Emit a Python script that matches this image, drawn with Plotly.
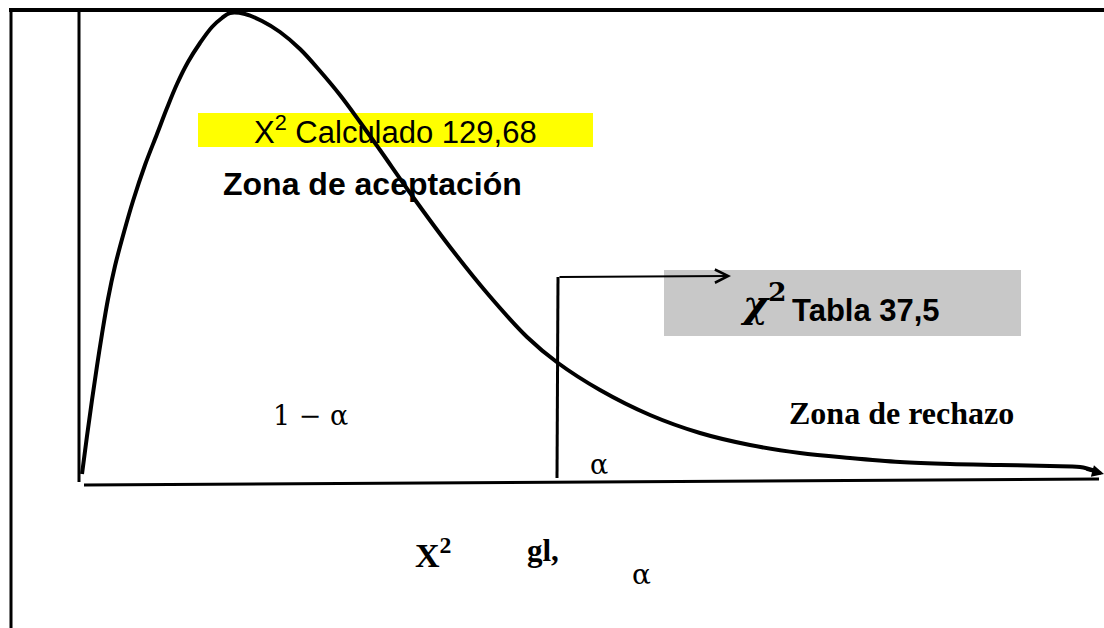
import plotly.graph_objects as go

# Curve of the chi-square density sketch (drawing frame units: x to the right, y downward)
curve_x = [82, 87, 92, 97, 102, 108, 115, 124, 133, 145, 157, 167, 177, 188, 200, 212, 222, 230,
           245, 262, 280, 300, 320, 340, 360, 380, 413, 450, 487, 527, 558, 600, 650, 700,
           750, 800, 850, 900, 950, 1000, 1050, 1080, 1096]
curve_y = [474, 436, 400, 366, 334, 299, 266, 232, 201, 165, 134, 108, 84, 62, 43, 27, 18, 13,
           14, 21, 32, 49, 71, 95, 122, 150, 197, 247, 293, 337, 363, 390, 415, 433,
           445, 453, 458, 462, 464, 465, 466, 467, 471]

# Labels
calc_label = "X<sup>2</sup> Calculado 129,68"
accept_label = "Zona de aceptación"
reject_label = "Zona de rechazo"
one_minus_alpha = "1 − α"
alpha_label = "α"
table_chi = "<i>χ</i><sup>2</sup>"
table_label = "Tabla 37,5"
foot_x2 = "X<sup>2</sup>"
foot_gl = "gl,"
foot_alpha = "α"

W, H = 1104, 628

fig = go.Figure()

fig.add_trace(go.Scatter(
    x=curve_x, y=curve_y, mode="lines",
    line=dict(color="black", width=4, shape="spline", smoothing=1.0),
    hoverinfo="skip", showlegend=False,
))

shapes = [
    # highlight boxes
    dict(type="rect", x0=198, y0=113, x1=593, y1=147, fillcolor="#ffff00",
         line=dict(width=0), layer="below"),
    dict(type="rect", x0=664, y0=270, x1=1021, y1=336, fillcolor="#c8c8c8",
         line=dict(width=0), layer="below"),
    # frame
    dict(type="line", x0=9, y0=10, x1=1104, y1=10, line=dict(color="black", width=4)),
    dict(type="line", x0=11, y0=9, x1=11, y1=628, line=dict(color="black", width=3)),
    # y axis
    dict(type="line", x0=79, y0=10, x1=79, y1=482, line=dict(color="black", width=3)),
    # x axis
    dict(type="line", x0=84, y0=485, x1=1099, y1=479, line=dict(color="black", width=3)),
    # critical value line
    dict(type="line", x0=558, y0=277, x1=557, y1=478, line=dict(color="black", width=3)),
]

def txt(x, y, text, size, family, bold=False, anchor="left", color="black"):
    if bold:
        text = "<b>" + text + "</b>"
    return dict(x=x, y=y, xref="x", yref="y", text=text, showarrow=False,
                xanchor=anchor, yanchor="middle",
                font=dict(size=size, family=family, color=color))

annotations = [
    txt(395, 130, calc_label, 31, "Liberation Sans", anchor="center"),
    txt(221, 184, accept_label, 32, "Liberation Sans", bold=True),
    txt(271, 415, one_minus_alpha, 27, "DejaVu Serif"),
    txt(787, 413, reject_label, 32, "Liberation Serif", bold=True),
    txt(588, 464, alpha_label, 27, "DejaVu Serif"),
    txt(738, 301, table_chi, 38, "DejaVu Serif", bold=True),
    txt(790, 310, table_label, 31, "Liberation Sans", bold=True),
    txt(413, 553, foot_x2, 34, "Liberation Serif", bold=True),
    txt(525, 550, foot_gl, 31, "Liberation Serif", bold=True),
    txt(630, 574, foot_alpha, 28, "DejaVu Serif"),
    # arrow to the table value
    dict(x=731, y=276, ax=558, ay=277, xref="x", yref="y", axref="x", ayref="y",
         text="", showarrow=True, arrowhead=5, arrowsize=1.3, arrowwidth=2,
         arrowcolor="black"),
    # arrow at the end of the tail
    dict(x=1104, y=474, ax=1085, ay=469, xref="x", yref="y", axref="x", ayref="y",
         text="", showarrow=True, arrowhead=2, arrowsize=0.8, arrowwidth=3,
         arrowcolor="black"),
]

fig.update_layout(
    width=W, height=H,
    margin=dict(l=0, r=0, t=0, b=0),
    paper_bgcolor="white", plot_bgcolor="white",
    xaxis=dict(range=[0, W], visible=False, fixedrange=True),
    yaxis=dict(range=[H, 0], visible=False, fixedrange=True),
    shapes=shapes, annotations=annotations,
    showlegend=False,
)

fig.write_html("out.html", config={"displayModeBar": False},
               post_script="document.body.style.margin='0';")
